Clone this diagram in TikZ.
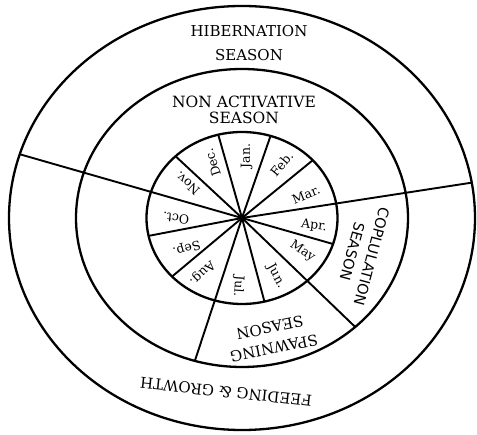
\documentclass[tikz,border=0pt]{standalone}
\usepackage{fontspec}
\setmainfont{DejaVu Serif}
\setsansfont{DejaVu Sans}
\usetikzlibrary{calc}
\begin{document}
\begin{tikzpicture}[x=1pt,y=-1pt,
  ring/.style={line width=2.3pt},
  spoke/.style={line width=1.9pt},
  month/.style={font=\fontsize{12.5}{12.5}\selectfont, inner sep=0pt},
  seasontxt/.style={align=center, inner sep=0pt},
]
\useasboundingbox (0,0) rectangle (477,435);
\coordinate (C) at (242,218);
% rings
\draw[ring] (C) ellipse [x radius=233pt, y radius=212pt];
\draw[ring] (C) ellipse [x radius=166pt, y radius=149pt];
\draw[ring] (C) ellipse [x radius=95.5pt, y radius=86pt];
% short spokes (month separators)
\foreach \a in {104.4,72.6,42.2,-17.6,-76.4,-137.1,-168,134.1}
  \draw[spoke] (C) -- ($(C)+(\a:95.5pt and 86pt)$);
% long dividing lines
\coordinate (L1) at ($(C)+(162.5:233pt and 212pt)$);
\coordinate (L2) at ($(C)+(9.6:233pt and 212pt)$);
\coordinate (L3) at ($(C)+(-47:166pt and 149pt)$);
\coordinate (L4) at ($(C)+(-106.5:166pt and 149pt)$);
\draw[spoke] (C) -- (L1);
\draw[spoke] (C) -- (L2);
\draw[spoke] (C) -- (L3);
\draw[spoke] (C) -- (L4);
% months
\node[month, rotate=90]  (jan) at (246.7,156)   {Jan.};
\node[month, rotate=50]  (feb) at (281.7,164) {Feb.};
\node[month, rotate=22]  (mar) at (306,194.5)   {Mar.};
\node[month, rotate=-7]  (apr) at (314,226)     {Apr.};
\node[month, rotate=-34] (may) at (302.5,251.5) {May};
\node[month, rotate=-61] (jun) at (276,276) {Jun.};
\node[month, rotate=-94] (jul) at (238.3,286) {Jul.};
\node[month, rotate=224] (aug) at (202,273) {Aug.};
\node[month, rotate=196] (sep) at (186.5,248)   {Sep.};
\node[month, rotate=174] (oct) at (176,218.3)   {Oct.};
\node[month, rotate=138] (nov) at (187.5,183.5) {Nov.};
\node[month, rotate=108] (dec) at (212.5,162.5) {Dec.};
% season labels
\node[seasontxt, font=\fontsize{15}{24}\selectfont] (hib) at (249,43) {HIBERNATION\\SEASON};
\node[seasontxt, font=\fontsize{15.5}{15.5}\selectfont] (non) at (244,110) {NON ACTIVATIVE\\SEASON};
\node[seasontxt, font=\fontsize{14.5}{20}\selectfont\sffamily, rotate=-105] (cop) at (362,254) {COPLULATION\\SEASON};
\node[seasontxt, font=\fontsize{15}{21}\selectfont, rotate=191.5] (spa) at (272,338) {SPAWNING\\SEASON};
\node[seasontxt, font=\fontsize{15}{15}\selectfont, rotate=174] (fee) at (226,392) {FEEDING \& GROWTH};
\end{tikzpicture}
\end{document}
